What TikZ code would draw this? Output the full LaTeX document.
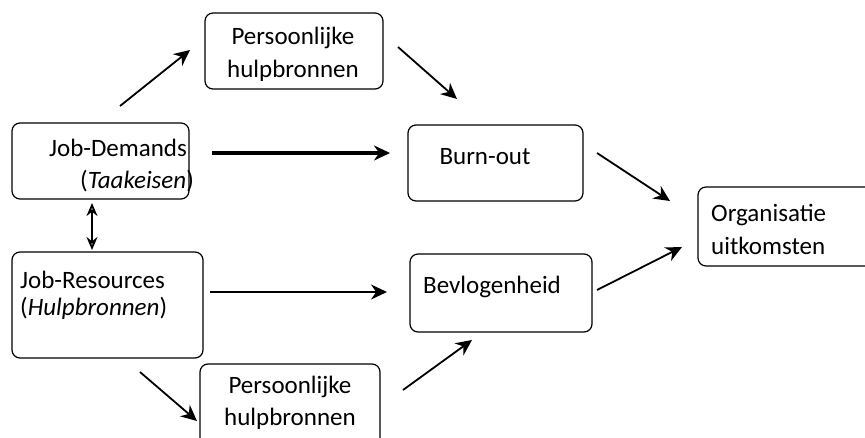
\documentclass[tikz,border=0pt]{standalone}
\usepackage{fontspec}
\setmainfont{Carlito}
\usetikzlibrary{arrows.meta}
\begin{document}
\begin{tikzpicture}[x=1pt,y=-1pt,
  box/.style={draw,line width=1.2pt,rounded corners=8pt},
  txt/.style={font=\fontsize{25}{28}\selectfont,inner sep=0pt},
  arr/.style={line width=1.8pt,-{Stealth[length=16pt,width=15pt]}},
  thickarr/.style={line width=3.8pt,-{Stealth[length=16pt,width=15pt]}}]
\useasboundingbox (0,0) rectangle (865,437);
\clip (0,0) rectangle (865,437);
% boxes
\draw[box] (205,13) rectangle (383,89);
\draw[box] (12,123) rectangle (189,199);
\draw[box] (12,252) rectangle (203,358);
\draw[box] (408,125) rectangle (583,201);
\draw[box] (410,254) rectangle (592,332);
\draw[box] (698,187) rectangle (880,266);
\draw[box] (200,364) rectangle (380,460);
% texts
\node[txt] (t1) at (293,38) {Persoonlijke};
\node[txt] (t2) at (293,71) {hulpbronnen};
\node[txt] (jd) at (118,148) {Job-Demands};
\node[txt] (jdt) at (137,181) {(\textit{Taakeisen})};
\node[txt,anchor=west] (jr) at (20,280) {Job-Resources};
\node[txt,anchor=west] (jrt) at (20,308) {(\textit{Hulpbronnen})};
\node[txt] (bo) at (485,157) {Burn-out};
\node[txt] (bv) at (492,287) {Bevlogenheid};
\node[txt,anchor=west] (o1) at (711,215) {Organisatie};
\node[txt,anchor=west] (o2) at (711,246) {uitkomsten};
\node[txt] (b1) at (290,387) {Persoonlijke};
\node[txt] (b2) at (290,419) {hulpbronnen};
% arrow end points
\coordinate (a1s) at (120,106); \coordinate (a1e) at (190,50);
\coordinate (a2s) at (398,47);  \coordinate (a2e) at (457,99);
\coordinate (a3s) at (212,153); \coordinate (a3e) at (390,153);
\coordinate (a4s) at (92,203);  \coordinate (a4e) at (92,250);
\coordinate (a5s) at (210,292); \coordinate (a5e) at (387,292);
\coordinate (a6s) at (140,372); \coordinate (a6e) at (197,421);
\coordinate (a7s) at (403,390); \coordinate (a7e) at (472,340);
\coordinate (a8s) at (597,153); \coordinate (a8e) at (670,201);
\coordinate (a9s) at (597,290); \coordinate (a9e) at (682,247);
\draw[arr] (a1s) -- (a1e);
\draw[arr] (a2s) -- (a2e);
\draw[thickarr] (a3s) -- (a3e);
\draw[line width=1.8pt,{Stealth[open,length=13pt,width=11pt]}-{Stealth[open,length=13pt,width=11pt]}] (a4s) -- (a4e);
\draw[arr] (a5s) -- (a5e);
\draw[arr] (a6s) -- (a6e);
\draw[arr] (a7s) -- (a7e);
\draw[arr] (a8s) -- (a8e);
\draw[arr] (a9s) -- (a9e);
\end{tikzpicture}
\end{document}
